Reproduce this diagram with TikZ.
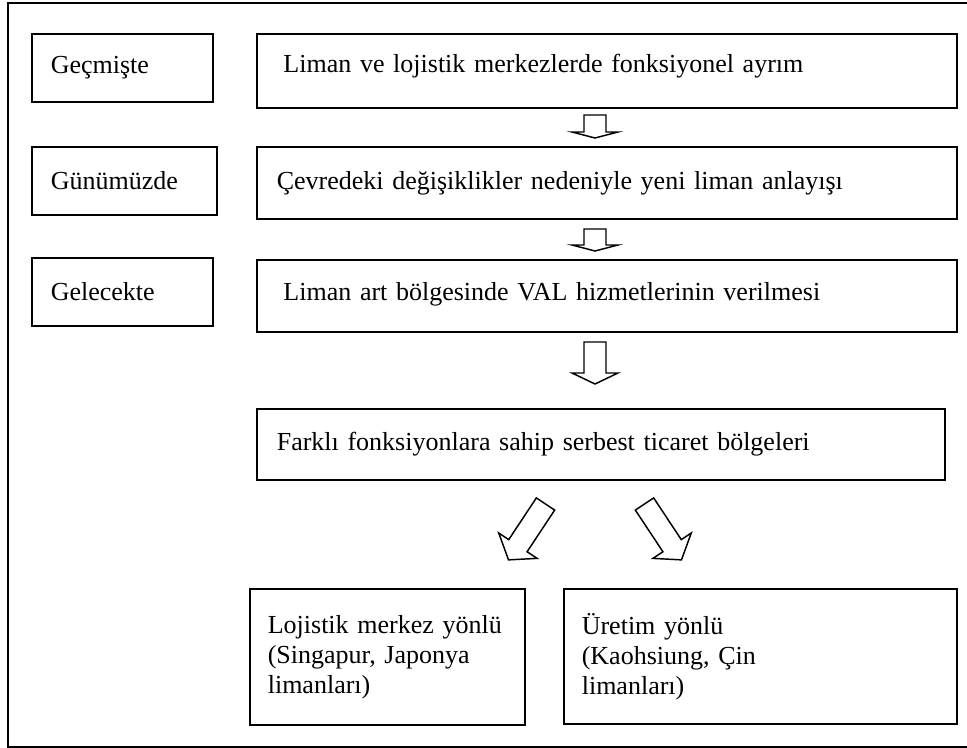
\documentclass[tikz,border=0pt]{standalone}
\usepackage{fontspec}
\setmainfont{Liberation Serif}
\usepackage{tikz}
\tikzset{periodbox/.style={rectangle, draw=black, line width=1.2pt, anchor=north west, align=left, inner ysep=2pt, inner xsep=14.25pt, font=\fontsize{19.5}{22.5}\selectfont},}
\tikzset{stagebox/.style={periodbox, inner xsep=15pt},}
\tikzset{outlinearrow/.style={draw=black, line width=1.1pt, line join=miter, fill=white},}
\tikzset{pics/blockarrow/.style 2 args={code={
  \path[outlinearrow] (-11,0) -- (-11,#1-#2) -- (-23,#1-#2) -- (0,#1) -- (23,#1-#2) -- (11,#1-#2) -- (11,0) -- cycle;
}}}

\begin{document}
\begin{tikzpicture}[x=0.75pt, y=-0.75pt]
\useasboundingbox (0,0) rectangle (967,748);
% frame
\draw[line width=1.2pt] (980,3) -- (8,3) -- (8,747) -- (980,747);

% periods
\node [periodbox, minimum width=135.75pt, minimum height=51pt, text width=107.25pt] (past) at (31,33) {Geçmişte};
\node [periodbox, minimum width=138.75pt, minimum height=51pt, text width=110.25pt] (present) at (31,146) {Günümüzde};
\node [periodbox, minimum width=135.75pt, minimum height=51pt, text width=107.25pt] (future) at (31,257) {Gelecekte};

% stages
\node [stagebox, inner xsep=20pt, minimum width=525pt, minimum height=55.5pt, text width=485pt, text depth=11pt] (split) at (256,33) {Liman ve lojistik merkezlerde fonksiyonel ayrım};
\node [stagebox, minimum width=525pt, minimum height=54pt, text width=495pt] (newport) at (256,146) {Çevredeki değişiklikler nedeniyle yeni liman anlayışı};
\node [stagebox, inner xsep=20pt, minimum width=525pt, minimum height=54pt, text width=485pt, text depth=7pt] (val) at (256,259) {Liman art bölgesinde VAL hizmetlerinin verilmesi};
\node [stagebox, minimum width=516pt, minimum height=53.25pt, text width=486pt] (ftz) at (256,408) {Farklı fonksiyonlara sahip serbest ticaret bölgeleri};
\node [periodbox, inner xsep=13.5pt, minimum width=206.25pt, minimum height=102pt, text width=179.25pt] (logistics) at (249,588) {Lojistik merkez yönlü\\(Singapur, Japonya\\limanları)};
\node [periodbox, inner xsep=13.5pt, minimum width=294.75pt, minimum height=101.25pt, text width=267.75pt] (production) at (563,588) {Üretim yönlü\\(Kaohsiung, Çin\\limanları)};

% arrows
\pic at (595,115) {blockarrow={23}{6}};
\pic at (595,229) {blockarrow={22}{6}};
\pic at (595,342) {blockarrow={42}{11}};
\pic [rotate=-33.5] at (545.5,504) {blockarrow={67}{17}};
\pic [rotate=33.5] at (644.5,504) {blockarrow={67}{17}};
\end{tikzpicture}
\end{document}
